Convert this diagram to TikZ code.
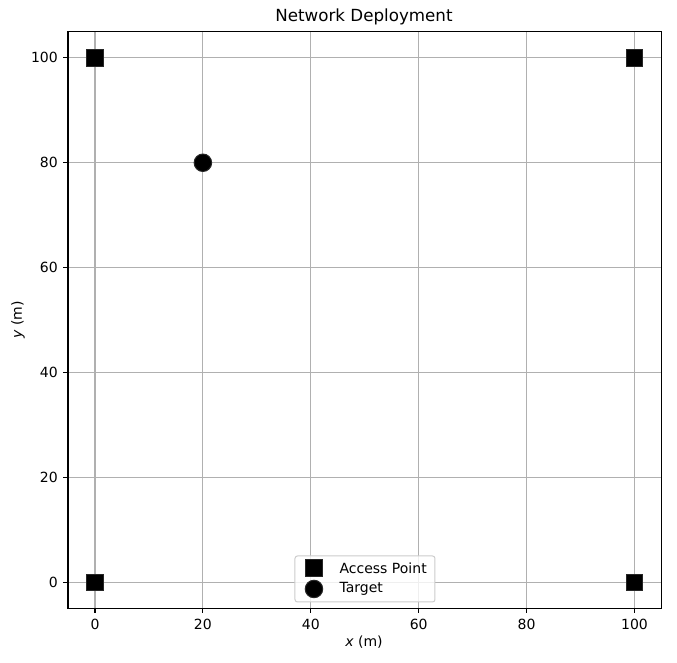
\documentclass[tikz,border=0pt]{standalone}
\usepackage{fontspec}
\setmainfont{DejaVu Sans}
\begin{document}
\begin{tikzpicture}[x=5.395pt,y=5.244pt,
  gridline/.style={draw=black!31,line width=1.1pt},
  spine/.style={draw=black,line width=1.1pt},
  tick/.style={draw=black,line width=1.1pt},
  ticklab/.style={font=\fontsize{14}{16}\selectfont,inner sep=0pt},
  apmark/.style={rectangle,fill=black,draw=black!85,line width=1pt,minimum size=16.5pt,inner sep=0pt},
  tgmark/.style={circle,fill=black,draw=black!85,line width=1pt,minimum size=17.5pt,inner sep=0pt},
  lab/.style={font=\fontsize{14}{16}\selectfont,inner sep=0pt}]
\useasboundingbox (-17.61,111.04) rectangle (107.88,-15.39);
\fill[white] (-17.61,111.04) rectangle (107.88,-15.39);
% grid
\foreach \v in {0,20,...,100}{
  \draw[gridline] (\v,-5) -- (\v,105);
  \draw[gridline] (-5,\v) -- (105,\v);
}
% ticks and tick labels
\foreach \v in {0,20,...,100}{
  \draw[tick] (\v,-5) -- ++(0,-4.9pt);
  \node[ticklab,anchor=base] (xt\v) at (\v,-9.10) {\v};
  \draw[tick] (-5,\v) -- ++(-4.9pt,0);
  \node[ticklab,anchor=base east,yshift=-5.1pt] (yt\v) at (-6.86,\v) {\v};
}
% spines
\draw[spine] (-5,-5) rectangle (105,105);
% markers
\node[apmark] (ap1) at (0,0) {};
\node[apmark] (ap2) at (100,0) {};
\node[apmark] (ap3) at (0,100) {};
\node[apmark] (ap4) at (100,100) {};
\node[tgmark] (tg) at (20,80) {};
% legend
\draw[draw=black!20,fill=white,fill opacity=0.8,line width=1pt,rounded corners=2.5pt] (37.07,5.015) rectangle (63.02,-3.757);
\node[apmark] (lap) at (40.59,2.727) {};
\node[tgmark] (ltg) at (40.59,-1.278) {};
\node[lab,anchor=west] (lapt) at (45.3,2.727) {Access Point};
\node[lab,anchor=west] (ltgt) at (45.3,-1.278) {Target};
% labels
\node[font=\fontsize{16.7}{19}\selectfont,inner sep=0pt] (title) at (49.86,107.8) {Network Deployment};
\node[lab] (xlab) at (49.86,-11.38) {\textit{x} (m)};
\node[lab,rotate=90] (ylab) at (-14.27,50) {\textit{y} (m)};
\end{tikzpicture}
\end{document}
